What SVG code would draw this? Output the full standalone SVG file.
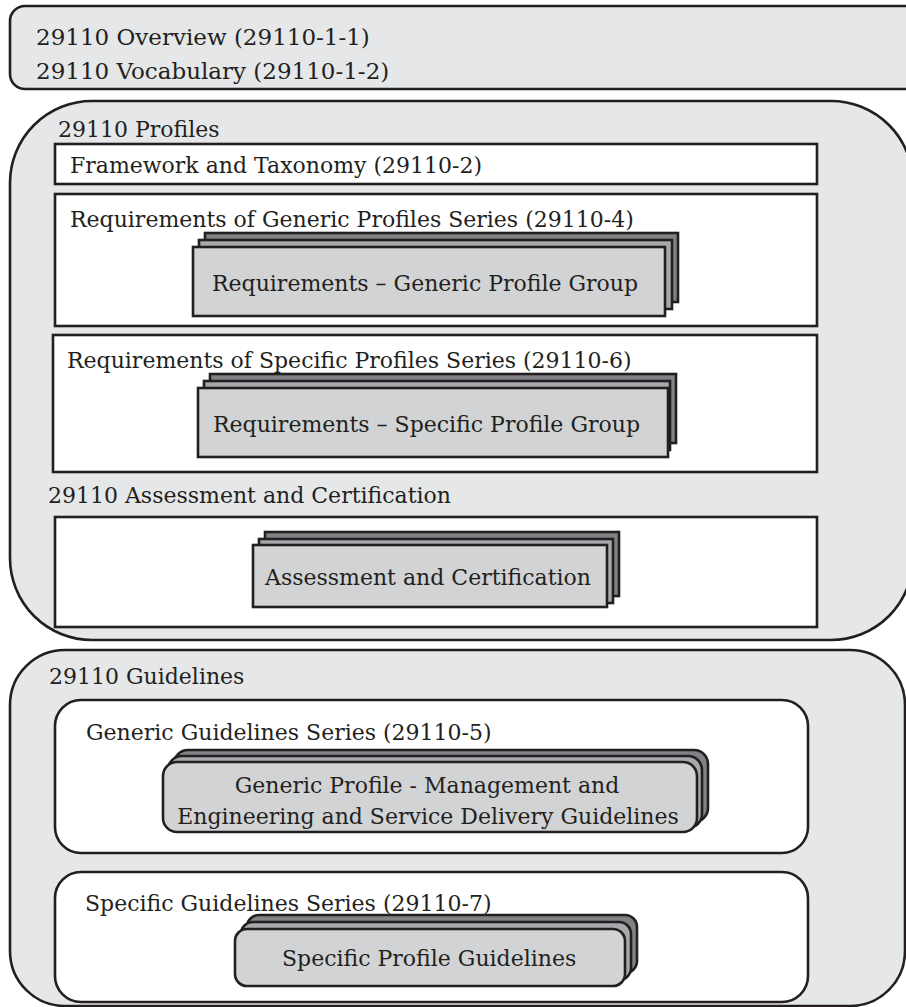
<svg xmlns="http://www.w3.org/2000/svg" width="906" height="1007" viewBox="0 0 906 1007">
<style>
.outer{fill:#e6e7e8;stroke:#231f20;stroke-width:2.6}
.inner{fill:#ffffff;stroke:#231f20;stroke-width:2.6}
.s1{fill:#808285;stroke:#231f20;stroke-width:2.6}
.s2{fill:#a7a9ac;stroke:#231f20;stroke-width:2.6}
.s3{fill:#d1d3d4;stroke:#231f20;stroke-width:2.6}
text{font-family:"DejaVu Serif","Liberation Serif",serif;font-size:22px;fill:#231f20}
.big{font-size:23px}
.mid{text-anchor:middle}
</style>
<rect width="906" height="1007" fill="#ffffff"/>
<g id="overview">
<rect class="outer" x="10" y="6" width="910" height="83" rx="15"/>
<text class="big" x="36" y="45">29110 Overview (29110-1-1)</text>
<text class="big" x="36" y="79">29110 Vocabulary (29110-1-2)</text>
</g>
<g id="profiles">
<rect class="outer" x="10" y="101" width="903" height="539" rx="82"/>
<text x="58" y="137">29110 Profiles</text>
</g>
<g id="framework">
<rect class="inner" x="55" y="144" width="762" height="40"/>
<text x="70" y="173">Framework and Taxonomy (29110-2)</text>
</g>
<g id="generic-profiles">
<rect class="inner" x="55" y="194" width="762" height="132"/>
<text x="70" y="227">Requirements of Generic Profiles Series (29110-4)</text>
</g>
<g id="generic-profile-group">
<rect class="s1" x="205" y="233" width="473" height="69"/>
<rect class="s2" x="199" y="240" width="473" height="69"/>
<rect class="s3" x="193" y="247" width="472" height="69"/>
<text x="212" y="291">Requirements – Generic Profile Group</text>
</g>
<g id="specific-profiles">
<rect class="inner" x="53" y="335" width="764" height="137"/>
<text x="67" y="368">Requirements of Specific Profiles Series (29110-6)</text>
</g>
<g id="specific-profile-group">
<rect class="s1" x="210" y="374" width="466" height="69"/>
<rect class="s2" x="204" y="381" width="466" height="69"/>
<rect class="s3" x="198" y="388" width="470" height="69"/>
<text x="213" y="432">Requirements – Specific Profile Group</text>
</g>
<g id="assessment">
<text x="48" y="503">29110 Assessment and Certification</text>
<rect class="inner" x="55" y="517" width="762" height="110"/>
</g>
<g id="assessment-certification">
<rect class="s1" x="265" y="532" width="354" height="64"/>
<rect class="s2" x="259" y="539" width="354" height="64"/>
<rect class="s3" x="253" y="545" width="354" height="62"/>
<text x="265" y="585">Assessment and Certification</text>
</g>
<g id="guidelines">
<rect class="outer" x="10" y="650" width="895" height="356" rx="55"/>
<text x="49" y="684">29110 Guidelines</text>
</g>
<g id="generic-guidelines">
<rect class="inner" x="55" y="700" width="753" height="153" rx="26"/>
<text x="86" y="740">Generic Guidelines Series (29110-5)</text>
</g>
<g id="generic-guidelines-group">
<rect class="s1" x="174" y="750" width="534" height="72" rx="14"/>
<rect class="s2" x="168" y="756" width="534" height="72" rx="14"/>
<rect class="s3" x="163" y="762" width="534" height="70" rx="14"/>
<text class="mid" x="427" y="793">Generic Profile - Management and</text>
<text class="mid" x="428" y="824">Engineering and Service Delivery Guidelines</text>
</g>
<g id="specific-guidelines">
<rect class="inner" x="55" y="872" width="753" height="130" rx="26"/>
<text x="85" y="911">Specific Guidelines Series (29110-7)</text>
</g>
<g id="specific-guidelines-group">
<rect class="s1" x="247" y="915" width="390" height="58" rx="12"/>
<rect class="s2" x="241" y="922" width="390" height="58" rx="12"/>
<rect class="s3" x="235" y="929" width="390" height="57" rx="12"/>
<text x="282" y="966">Specific Profile Guidelines</text>
</g>
<g id="connectors"/>
</svg>
